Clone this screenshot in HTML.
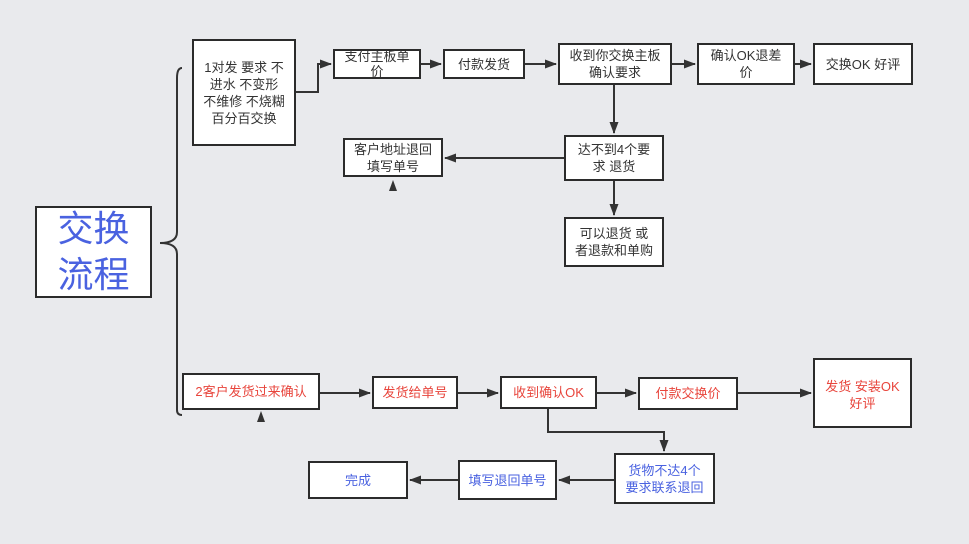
<!DOCTYPE html>
<html><head><meta charset="utf-8"><style>
body{margin:0;width:969px;height:544px;background:#e9eaed;position:relative;overflow:hidden;font-family:"Liberation Sans","Noto Sans CJK SC",sans-serif;}
.b{position:absolute;box-sizing:border-box;background:#fff;border:2px solid #2b2b2b;display:flex;align-items:center;justify-content:center;text-align:center;font-size:13px;line-height:17px;color:#333;}
.r{color:#e8453c}.u{color:#4a62e0}
svg{position:absolute;left:0;top:0}
</style></head><body>
<svg width="969" height="544">
<defs><marker id="a" markerWidth="12" markerHeight="9" refX="11" refY="4.5" orient="auto" markerUnits="userSpaceOnUse"><path d="M0,0L12,4.5L0,9z" fill="#333"/></marker></defs>
<g stroke="#333" stroke-width="2" fill="none">
<path d="M182,68 Q177,68 177,78 L177,232 Q177,243 160,243 Q177,243 177,254 L177,410 Q177,415 182,415"/>
<path d="M296,92 H318 V64 H331" marker-end="url(#a)"/>
<path d="M421,64 H441" marker-end="url(#a)"/>
<path d="M525,64 H556" marker-end="url(#a)"/>
<path d="M672,64 H695" marker-end="url(#a)"/>
<path d="M795,64 H811" marker-end="url(#a)"/>
<path d="M614,85 V133" marker-end="url(#a)"/>
<path d="M564,158 H445" marker-end="url(#a)"/>
<path d="M614,181 V215" marker-end="url(#a)"/>
<path d="M320,393 H370" marker-end="url(#a)"/>
<path d="M458,393 H498" marker-end="url(#a)"/>
<path d="M597,393 H636" marker-end="url(#a)"/>
<path d="M738,393 H811" marker-end="url(#a)"/>
<path d="M548,409 V432 H664 V451" marker-end="url(#a)"/>
<path d="M614,480 H559" marker-end="url(#a)"/>
<path d="M458,480 H410" marker-end="url(#a)"/>
</g>
<path d="M389,191L393,180L397,191z" fill="#333"/>
<path d="M257,422L261,411L265,422z" fill="#333"/>
</svg>
<div class="b u" style="left:35px;top:206px;width:117px;height:92px;font-size:36px;line-height:46px;">交换<br>流程</div>
<div class="b" style="left:192px;top:39px;width:104px;height:107px;">1对发 要求 不<br>进水 不变形<br>不维修 不烧糊<br>百分百交换</div>
<div class="b" style="left:333px;top:49px;width:88px;height:30px;line-height:15px">支付主板单<br>价</div>
<div class="b" style="left:443px;top:49px;width:82px;height:30px">付款发货</div>
<div class="b" style="left:558px;top:43px;width:114px;height:42px">收到你交换主板<br>确认要求</div>
<div class="b" style="left:697px;top:43px;width:98px;height:42px">确认OK退差<br>价</div>
<div class="b" style="left:813px;top:43px;width:100px;height:42px">交换OK 好评</div>
<div class="b" style="left:564px;top:135px;width:100px;height:46px">达不到4个要<br>求 退货</div>
<div class="b" style="left:564px;top:217px;width:100px;height:50px">可以退货 或<br>者退款和单购</div>
<div class="b" style="left:343px;top:138px;width:100px;height:39px">客户地址退回<br>填写单号</div>
<div class="b r" style="left:182px;top:373px;width:138px;height:37px">2客户发货过来确认</div>
<div class="b r" style="left:372px;top:376px;width:86px;height:33px">发货给单号</div>
<div class="b r" style="left:500px;top:376px;width:97px;height:33px">收到确认OK</div>
<div class="b r" style="left:638px;top:377px;width:100px;height:33px">付款交换价</div>
<div class="b r" style="left:813px;top:358px;width:99px;height:70px;align-items:flex-start;padding-top:18px">发货 安装OK<br>好评</div>
<div class="b u" style="left:614px;top:453px;width:101px;height:51px">货物不达4个<br>要求联系退回</div>
<div class="b u" style="left:458px;top:460px;width:99px;height:40px">填写退回单号</div>
<div class="b u" style="left:308px;top:461px;width:100px;height:38px">完成</div>
</body></html>
